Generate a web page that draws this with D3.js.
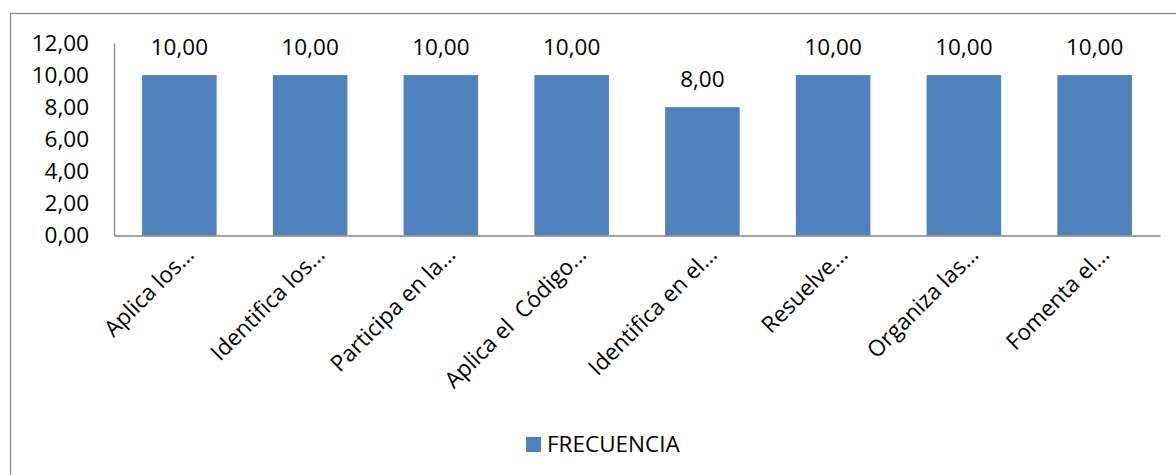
<!DOCTYPE html>
<html>
<head>
<meta charset="utf-8">
<script src="https://cdn.jsdelivr.net/npm/d3@7"></script>
<style>
  body { margin: 0; background: #fff; }
  text { font-family: "Open Sans", sans-serif; fill: #000; }
</style>
</head>
<body>
<svg id="chart"></svg>
<script>
// Data
const categories = [
    "Aplica los…",
    "Identifica los…",
    "Participa en la…",
    "Aplica el  Código…",
    "Identifica en el…",
    "Resuelve…",
    "Organiza las…",
    "Fomenta el…"
];
const frecuencia = [10, 10, 10, 10, 8, 10, 10, 10];
const yTicks = [0, 2, 4, 6, 8, 10, 12];
const seriesName = "FRECUENCIA";

function createBarChart() {
    const width = 1176;
    const height = 475;
    const margin = { top: 43, right: 16, bottom: 239.5, left: 114 };
    const barColor = "#4F81BD";
    const fontSize = "22.5px";
    const fmt = v => v.toFixed(2).replace(".", ",");

    const svg = d3.select("#chart")
        .attr("width", width)
        .attr("height", height);

    // outer chart border
    svg.append("rect")
        .attr("x", 10.5)
        .attr("y", 13.5)
        .attr("width", 1200)
        .attr("height", 600)
        .attr("fill", "none")
        .attr("stroke", "#8c8c8c")
        .attr("stroke-width", 1.3);

    const xScale = d3.scaleBand()
        .domain(categories)
        .range([margin.left, width - margin.right])
        .paddingInner(0.43)
        .paddingOuter(0.215);

    const yScale = d3.scaleLinear()
        .domain([0, 12])
        .range([height - margin.bottom, margin.top]);

    // bars
    svg.selectAll(".bar")
        .data(frecuencia)
        .enter()
        .append("rect")
        .attr("class", "bar")
        .attr("x", (d, i) => xScale(categories[i]))
        .attr("y", d => yScale(d))
        .attr("width", xScale.bandwidth())
        .attr("height", d => yScale(0) - yScale(d))
        .attr("fill", barColor);

    // y axis
    const yAxis = d3.axisLeft(yScale)
        .tickValues(yTicks)
        .tickFormat(fmt)
        .tickSize(0)
        .tickPadding(25);

    const gy = svg.append("g")
        .attr("transform", `translate(${margin.left}, 0)`)
        .call(yAxis);
    gy.select(".domain").attr("stroke", "#868686").attr("stroke-width", 1.3);
    gy.selectAll("text")
        .style("font-size", fontSize)
        .style("font-family", "'Open Sans', sans-serif");

    // x axis line
    const gx = svg.append("g")
        .attr("transform", `translate(0, ${yScale(0)})`)
        .call(d3.axisBottom(xScale).tickSize(0).tickFormat(""));
    gx.select(".domain").attr("stroke", "#868686").attr("stroke-width", 1.3);

    // rotated category labels
    svg.selectAll(".cat-label")
        .data(categories)
        .enter()
        .append("text")
        .attr("class", "cat-label")
        .attr("transform", d => `translate(${xScale(d) + xScale.bandwidth() / 2 + 16}, 256) rotate(-45)`)
        .attr("text-anchor", "end")
        .style("font-size", fontSize)
        .style("white-space", "pre")
        .text(d => d);

    // data labels
    svg.selectAll(".value-label")
        .data(frecuencia)
        .enter()
        .append("text")
        .attr("class", "value-label")
        .attr("x", (d, i) => xScale(categories[i]) + xScale.bandwidth() / 2)
        .attr("y", d => yScale(d) - 28)
        .attr("dy", "0.35em")
        .attr("text-anchor", "middle")
        .style("font-size", fontSize)
        .text(d => fmt(d));

    // legend
    const legend = svg.append("g")
        .attr("transform", "translate(526, 437)");
    legend.append("rect")
        .attr("width", 15)
        .attr("height", 15)
        .attr("fill", barColor);
    legend.append("text")
        .attr("x", 21)
        .attr("y", 7.5)
        .attr("dy", "0.35em")
        .style("font-size", fontSize)
        .text(seriesName);
}

createBarChart();
</script>
</body>
</html>
